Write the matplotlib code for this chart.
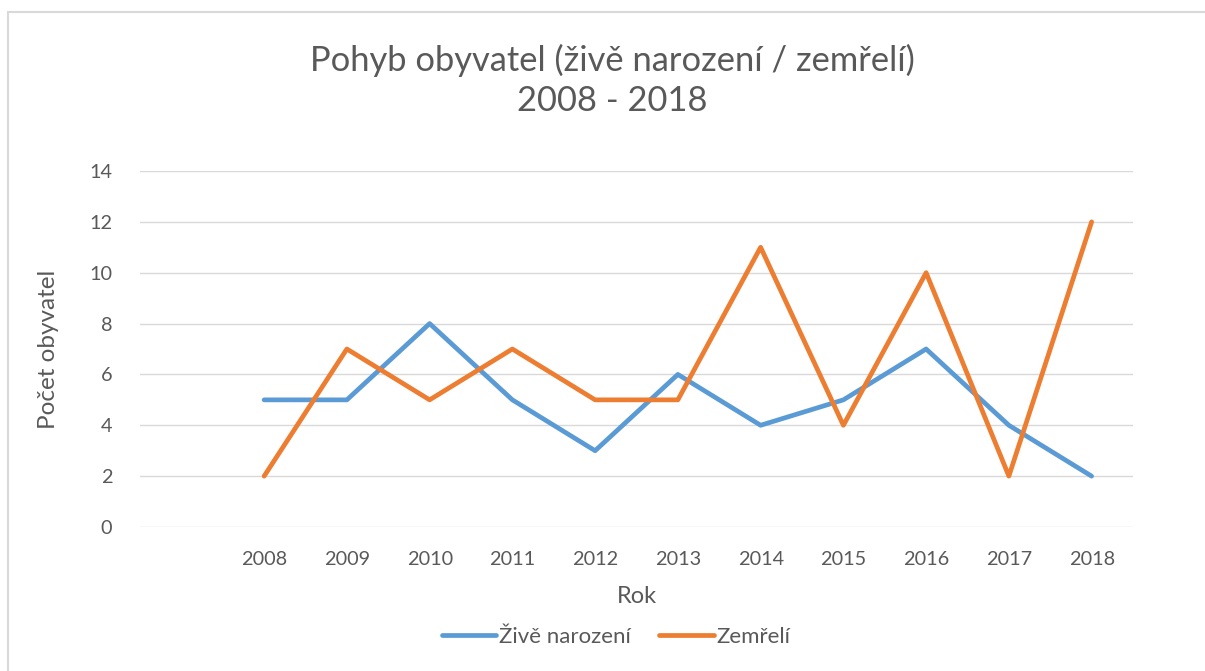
import matplotlib
matplotlib.use("Agg")
import matplotlib.pyplot as plt
from matplotlib.lines import Line2D
import numpy as np

years = ["2008", "2009", "2010", "2011", "2012", "2013", "2014", "2015", "2016", "2017", "2018"]
zive_narozeni = [5, 5, 8, 5, 3, 6, 4, 5, 7, 4, 2]
zemreli = [2, 7, 5, 7, 5, 5, 11, 4, 10, 2, 12]

plt.rcParams['font.family'] = ['Lato', 'DejaVu Sans']
TXT = '#595959'

fig = plt.figure(figsize=(12.05, 6.71), dpi=100)
ax = fig.add_axes([140/1205, 144/671, 993/1205, 356/671])

# first category slot is empty in the source
cats = [""] + years
x = np.arange(1, len(years) + 1)

ax.plot(x, zive_narozeni, color='#5B9BD5', lw=3.4, solid_capstyle='round',
        solid_joinstyle='round', label='Živě narození', zorder=3)
ax.plot(x, zemreli, color='#ED7D31', lw=3.4, solid_capstyle='round',
        solid_joinstyle='round', label='Zemřelí', zorder=3)

ax.set_xlim(-0.5, len(cats) - 0.5)
ax.set_ylim(0, 14)
ax.set_yticks(range(0, 15, 2))
ax.set_xticks(range(len(cats)))
ax.set_xticklabels(cats)
ax.grid(axis='y', color='#D9D9D9', lw=1.0)
ax.grid(axis='x', visible=False)
for s in ax.spines.values():
    s.set_visible(False)
ax.tick_params(length=0, labelsize=14.3, labelcolor=TXT)
ax.tick_params(axis='x', pad=17)
ax.tick_params(axis='y', pad=20)

ax.set_xlabel('Rok', fontsize=17, color=TXT, labelpad=13)
ax.set_ylabel('Počet obyvatel', fontsize=17.5, color=TXT, labelpad=22)

fig.text(612/1205, 1 - 60/671, 'Pohyb obyvatel (živě narození / zemřelí)',
         ha='center', va='center', fontsize=24.8, color=TXT)
fig.text(612/1205, 1 - 101/671, '2008 - 2018',
         ha='center', va='center', fontsize=24.8, color=TXT)

leg = fig.legend(loc='center', bbox_to_anchor=(616/1205, 1 - 637/671), ncol=2,
                 frameon=False, fontsize=16, handlelength=2.45, handletextpad=0.12,
                 columnspacing=1.3)
for t in leg.get_texts():
    t.set_color(TXT)

# chart border (light gray)
fig.add_artist(Line2D([8/1205, 8/1205], [0, 1 - 12/671], color='#D9D9D9', lw=1.5,
                      transform=fig.transFigure))
fig.add_artist(Line2D([8/1205, 1], [1 - 12/671, 1 - 12/671], color='#D9D9D9', lw=1.5,
                      transform=fig.transFigure))

fig.savefig('out.png', dpi=100)
